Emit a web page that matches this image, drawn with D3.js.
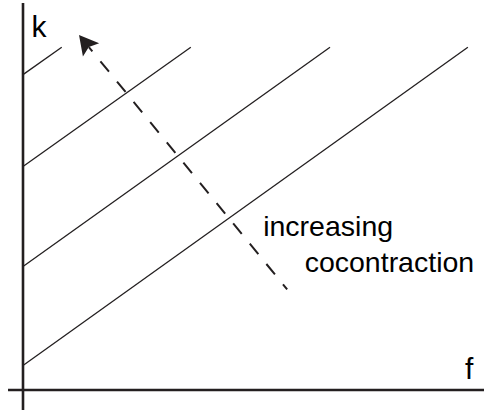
<!DOCTYPE html>
<html>
<head>
<meta charset="utf-8">
<script src="https://cdn.jsdelivr.net/npm/d3@7"></script>
<style>
  html, body { margin: 0; padding: 0; background: #fff; }
  svg { display: block; }
  text { font-family: "Liberation Sans", Arial, sans-serif; fill: #000; }
</style>
</head>
<body>
<svg id="chart" width="484" height="412"></svg>
<script>
// ---- data (in f / k units) ----
const isoLineNames = ["c1", "c2", "c3", "c4"];
const isoLineStart = [[0, 6.33], [0, 31.9], [0, 57.75], [0, 81.5]];
const isoLineEnd = [[96.5, 88.55], [66.6, 88.55], [36.4, 88.55], [8.4, 88.55]];
const arrowTail = [57.3, 26.0];
const arrowTip = [12.15, 91.7];
const axisLabels = ["k", "f"];
const annotation = ["increasing", "cocontraction"];

// ---- layout ----
const W = 484, H = 412;
const x = d3.scaleLinear().domain([0, 100]).range([23, 484]);
const y = d3.scaleLinear().domain([0, 100]).range([390, 3]);

const svg = d3.select("#chart");

// axes
svg.append("line")
  .attr("x1", x(-3.25)).attr("x2", x(100))
  .attr("y1", y(0)).attr("y2", y(0))
  .attr("stroke", "#231f20").attr("stroke-width", 2.6);
svg.append("line")
  .attr("x1", x(0)).attr("x2", x(0))
  .attr("y1", y(-5.2)).attr("y2", y(100))
  .attr("stroke", "#231f20").attr("stroke-width", 2.6);

// iso lines
svg.selectAll("line.iso")
  .data(isoLineNames.map((n, i) => ({ n, s: isoLineStart[i], e: isoLineEnd[i] })))
  .join("line")
  .attr("class", "iso")
  .attr("x1", d => x(d.s[0])).attr("y1", d => y(d.s[1]))
  .attr("x2", d => x(d.e[0])).attr("y2", d => y(d.e[1]))
  .attr("stroke", "#231f20").attr("stroke-width", 1.3);

// dashed arrow
const tx = x(arrowTail[0]), ty = y(arrowTail[1]);
const hx = x(arrowTip[0]), hy = y(arrowTip[1]);
const len = Math.hypot(hx - tx, hy - ty);
const ux = (hx - tx) / len, uy = (hy - ty) / len;
const px = -uy, py = ux;
const headLen = 19, headHalf = 10.5, notch = 15.5;
const nx = hx - ux * notch, ny = hy - uy * notch;
svg.append("line")
  .attr("x1", tx).attr("y1", ty)
  .attr("x2", nx).attr("y2", ny)
  .attr("stroke", "#231f20").attr("stroke-width", 2)
  .attr("stroke-dasharray", "13.5,12.7")
  .attr("stroke-dashoffset", 6.9);
const bx = hx - ux * headLen, by = hy - uy * headLen;
svg.append("path")
  .attr("d", d3.line()([
    [hx, hy],
    [bx + px * headHalf, by + py * headHalf],
    [nx, ny],
    [bx - px * headHalf, by - py * headHalf]
  ]) + "Z")
  .attr("fill", "#231f20");

// axis labels
svg.append("text").attr("x", x(1.85)).attr("y", y(91.3))
  .attr("font-size", 30).text(axisLabels[0]);
svg.append("text").attr("x", x(95.9)).attr("y", y(2.76))
  .attr("font-size", 30).text(axisLabels[1]);

// annotation
svg.append("text").attr("x", x(52.1)).attr("y", y(39.8))
  .attr("font-size", 28.5).text(annotation[0]);
svg.append("text").attr("x", x(61.1)).attr("y", y(30.6))
  .attr("font-size", 28.5).text(annotation[1]);
</script>
</body>
</html>
